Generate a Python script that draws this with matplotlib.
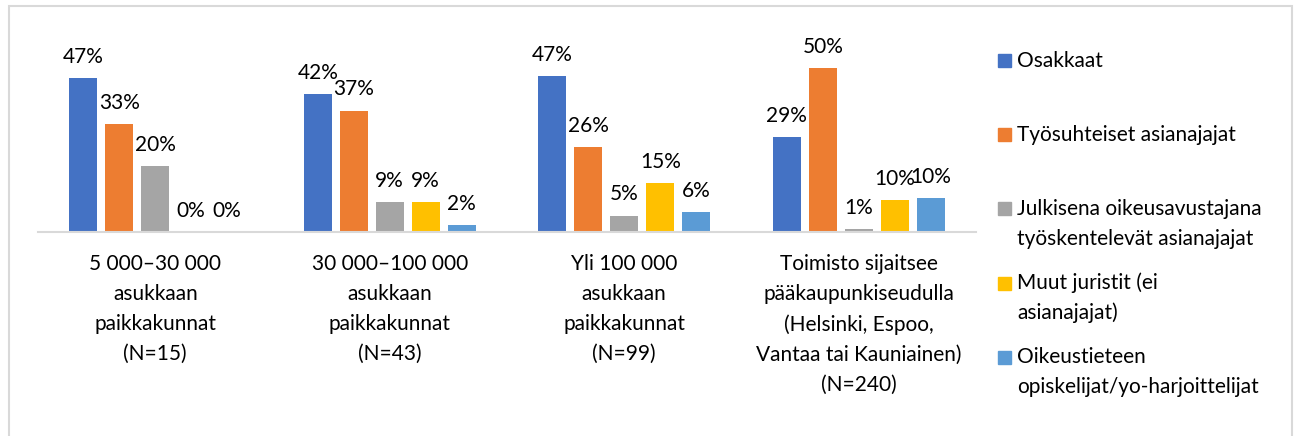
import matplotlib.pyplot as plt
from matplotlib.patches import Rectangle
import numpy as np

plt.rcParams['font.family'] = ['Lato', 'DejaVu Sans']

categories = ["5 000–30 000\nasukkaan\npaikkakunnat\n(N=15)",
              "30 000–100 000\nasukkaan\npaikkakunnat\n(N=43)",
              "Yli 100 000\nasukkaan\npaikkakunnat\n(N=99)",
              "Toimisto sijaitsee\npääkaupunkiseudulla\n(Helsinki, Espoo,\nVantaa tai Kauniainen)\n(N=240)"]
series = ["Osakkaat",
          "Työsuhteiset asianajajat",
          "Julkisena oikeusavustajana\ntyöskentelevät asianajajat",
          "Muut juristit (ei\nasianajajat)",
          "Oikeustieteen\nopiskelijat/yo-harjoittelijat"]
osakkaat = [47.0, 42.0, 47.5, 29.0]
tyosuhteiset = [33.0, 37.0, 26.0, 50.0]
julkiset = [20.0, 9.0, 5.0, 1.0]
muut = [0.0, 9.0, 15.0, 9.6]
opiskelijat = [0.0, 2.0, 6.0, 10.4]
labels = [["47%", "42%", "47%", "29%"],
          ["33%", "37%", "26%", "50%"],
          ["20%", "9%", "5%", "1%"],
          ["0%", "9%", "15%", "10%"],
          ["0%", "2%", "6%", "10%"]]
colors = ["#4472C4", "#ED7D31", "#A5A5A5", "#FFC000", "#5B9BD5"]

W, H = 1295, 436
fig = plt.figure(figsize=(W / 100, H / 100), dpi=100)
# outer frame like the Excel chart area
fig.add_artist(Rectangle((8.5 / W, -0.01), (1292 - 8.5) / W, 1 - 6.5 / H + 0.01,
                         transform=fig.transFigure, fill=False,
                         edgecolor="#D9D9D9", linewidth=1.5))

ax = fig.add_axes([38 / W, (H - 232) / H, (976 - 38) / W, 197 / H])
x = np.arange(len(categories))
step = 0.1535
width = 0.12
values = [osakkaat, tyosuhteiset, julkiset, muut, opiskelijat]
for i, vals in enumerate(values):
    pos = x + (i - 2) * step
    bars = ax.bar(pos, vals, width, color=colors[i])
    for b, lab in zip(bars, labels[i]):
        ax.annotate(lab, (b.get_x() + b.get_width() / 2, b.get_height()),
                    xytext=(0, 8), textcoords="offset points",
                    ha="center", va="bottom", fontsize=15, color="#000000")

ax.set_xlim(-0.5, 3.5)
ax.set_ylim(0, 60)
ax.set_xticks(x)
ax.set_xticklabels(categories, fontsize=15, linespacing=1.62)
ax.tick_params(axis="x", length=0, pad=16)
ax.set_yticks([])
for s in ["top", "right", "left"]:
    ax.spines[s].set_visible(False)
ax.spines["bottom"].set_color("#D9D9D9")
ax.spines["bottom"].set_linewidth(1.5)

# legend drawn by hand so the square sits on the first line of each entry
for i, name in enumerate(series):
    yc = 61 + 74 * i
    fig.add_artist(Rectangle((998 / W, (H - yc - 6.5) / H), 13 / W, 13 / H,
                             transform=fig.transFigure, color=colors[i]))
    for j, line in enumerate(name.split("\n")):
        fig.text(1017 / W, (H - yc - 29.5 * j) / H, line, fontsize=15,
                 ha="left", va="center", color="#000000")

fig.savefig("out.png", dpi=100)
